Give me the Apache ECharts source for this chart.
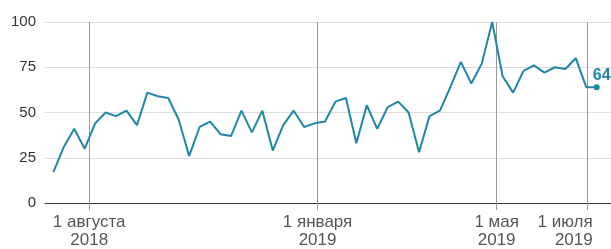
<!DOCTYPE html>
<html>
<head>
<meta charset="utf-8">
<script src="https://cdn.jsdelivr.net/npm/echarts@6/dist/echarts.min.js"></script>
<style>
  html, body { margin: 0; padding: 0; background: #fff; }
  #chart { width: 611px; height: 249px; }
</style>
</head>
<body>
<div id="chart"></div>
<script>
  //  weekly points, first week starts here
  var weekStart = '2018-07-08';
  var values = [17, 31, 41, 30, 44, 50, 48, 51, 43, 61,
                59, 58, 46, 26, 42, 45, 38, 37, 51, 39,
                51, 29, 43, 51, 42, 44, 45, 56, 58, 33,
                54, 41, 53, 56, 50, 28, 48, 51, 64, 78,
                66, 77, 100, 70, 61, 73, 76, 72, 75, 74,
                80, 64, 64];
  var tickDates = ['2018-08-01', '2019-01-01', '2019-05-01', '2019-07-01'];
  var tickLabels = ['1 августа\n2018', '1 января\n2019', '1 мая\n2019', '1 июля\n2019'];
  var yTicks = [0, 25, 50, 75, 100];

  var lineColor = '#2086a6';
  var fontFamily = '"Liberation Sans", Arial, sans-serif';

  function dayOffset(str) {
    return (Date.parse(str) - Date.parse(weekStart)) / 86400000;
  }

  function extend(target, src) {
    for (var key in src) {
      target[key] = src[key];
    }
    return target;
  }

  var seriesData = values.map(function (v, i) {
    return [i * 7, v];
  });
  var tickDays = tickDates.map(dayOffset);
  var lastTick = tickDays[tickDays.length - 1];
  var lastPoint = seriesData[seriesData.length - 1];

  function labelFor(val) {
    var idx = tickDays.indexOf(val);
    return idx >= 0 ? tickLabels[idx] : '';
  }

  var labelStyle = {
    color: '#555',
    fontSize: 17,
    lineHeight: 18,
    fontFamily: fontFamily
  };

  var option = {
    animation: false,
    grid: { left: 45, right: 0, top: 22, bottom: 46, outerBoundsMode: 'none' },
    xAxis: [
      {
        type: 'value',
        min: -5.6,
        max: 373.6,
        splitLine: { show: false },
        axisLine: { show: true, lineStyle: { color: '#333', width: 1 } },
        axisTick: {
          show: true,
          customValues: tickDays,
          length: 7,
          lineStyle: { color: '#999', width: 1 }
        },
        axisLabel: extend({
          customValues: tickDays.slice(0, -1),
          margin: 10,
          formatter: labelFor
        }, labelStyle)
      },
      {
        //  last label sits right-aligned so it stays inside the picture
        type: 'value',
        position: 'bottom',
        min: -5.6,
        max: 373.6,
        splitLine: { show: false },
        axisLine: { show: false },
        axisTick: { show: false },
        axisLabel: extend({
          customValues: [lastTick],
          margin: 10,
          align: 'right',
          padding: [0, -5, 0, 0],
          formatter: labelFor
        }, labelStyle)
      }
    ],
    yAxis: {
      type: 'value',
      min: yTicks[0],
      max: yTicks[yTicks.length - 1],
      interval: 25,
      axisLine: { show: false },
      axisTick: { show: false },
      splitLine: { lineStyle: { color: '#ddd', width: 1 } },
      axisLabel: {
        margin: 9,
        color: '#333',
        fontSize: 15,
        fontFamily: fontFamily
      }
    },
    series: [
      {
        type: 'line',
        data: seriesData,
        showSymbol: false,
        lineStyle: { color: lineColor, width: 2 },
        z: 3,
        markLine: {
          silent: true,
          symbol: 'none',
          label: { show: false },
          lineStyle: { color: '#999', width: 1, type: 'solid' },
          data: tickDays.map(function (d) {
            return { xAxis: d };
          }),
          z: 1
        }
      },
      {
        //  last value dot with its label
        type: 'scatter',
        data: [lastPoint],
        symbol: 'circle',
        symbolSize: 6,
        itemStyle: { color: lineColor, opacity: 1 },
        z: 4,
        label: {
          show: true,
          position: 'top',
          distance: 1,
          offset: [5, 0],
          color: lineColor,
          fontSize: 16,
          fontWeight: 'bold',
          fontFamily: fontFamily,
          formatter: function (p) {
            return p.value[1];
          }
        }
      }
    ]
  };

  var myChart = echarts.init(document.getElementById('chart'));
  myChart.setOption(option);
</script>
</body>
</html>
